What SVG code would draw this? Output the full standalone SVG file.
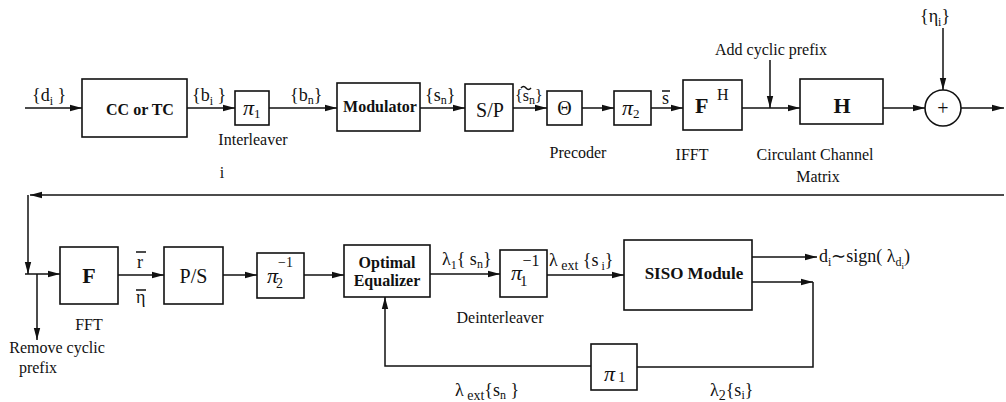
<svg xmlns="http://www.w3.org/2000/svg" width="1006" height="402" viewBox="0 0 1006 402">
<style>
.box{fill:#fff;stroke:#111;stroke-width:1.6}
.ln{fill:none;stroke:#111;stroke-width:1.5}
.t{font-family:"Liberation Serif","Times New Roman",serif;fill:#111}
.lb{font-size:16px;text-anchor:middle}
.bb{font-size:16px;font-weight:bold;text-anchor:middle}
.m{font-size:18px}
.s{font-size:12px}
.pi{font-size:22px;font-style:italic}
</style>
<defs>
<marker id="ar" viewBox="0 0 12 8" refX="12" refY="4" markerWidth="12" markerHeight="8" markerUnits="userSpaceOnUse" orient="auto">
<path d="M0,0.8 L12,4 L0,7.2 Z" fill="#111"/>
</marker>
</defs>
<rect width="1006" height="402" fill="#fff"/>

<g id="connectors">
<path class="ln" d="M25,108 H82" marker-end="url(#ar)"/>
<path class="ln" d="M187,108 H235" marker-end="url(#ar)"/>
<path class="ln" d="M269,108 H337" marker-end="url(#ar)"/>
<path class="ln" d="M420,108 H465" marker-end="url(#ar)"/>
<path class="ln" d="M513,108 H547" marker-end="url(#ar)"/>
<path class="ln" d="M582,108 H614" marker-end="url(#ar)"/>
<path class="ln" d="M651,108 H683" marker-end="url(#ar)"/>
<path class="ln" d="M742,108 H800" marker-end="url(#ar)"/>
<path class="ln" d="M770,60 V108" marker-end="url(#ar)"/>
<path class="ln" d="M883,108 H925" marker-end="url(#ar)"/>
<path class="ln" d="M943,28 V90" marker-end="url(#ar)"/>
<path class="ln" d="M961,108 H1004" marker-end="url(#ar)"/>
<path class="ln" d="M1004,195 H30" marker-end="url(#ar)"/>
<path class="ln" d="M28,195 V274" marker-end="url(#ar)"/>
<path class="ln" d="M25,274 H60" marker-end="url(#ar)"/>
<path class="ln" d="M37,274 V340" marker-end="url(#ar)"/>
<path class="ln" d="M118,275 H164" marker-end="url(#ar)"/>
<path class="ln" d="M223,275 H257" marker-end="url(#ar)"/>
<path class="ln" d="M304,275 H344" marker-end="url(#ar)"/>
<path class="ln" d="M430,274 H500" marker-end="url(#ar)"/>
<path class="ln" d="M547,275 H624" marker-end="url(#ar)"/>
<path class="ln" d="M752,257 H817" marker-end="url(#ar)"/>
<path class="ln" d="M752,282 H813" marker-end="url(#ar)"/>
<path class="ln" d="M813,282 V367 H637"/>
<path class="ln" d="M591,366 H385 V297" marker-end="url(#ar)"/>
</g>

<g id="cc"><rect class="box" x="82" y="79" width="105" height="58"/><text class="t bb" x="140" y="115">CC or TC</text></g>
<g id="pi1"><rect class="box" x="235" y="91" width="34" height="34"/><text class="t" x="243" y="115"><tspan class="pi">π</tspan><tspan font-size="13" dy="3">1</tspan></text></g>
<g id="modulator"><rect class="box" x="337" y="83" width="83" height="48"/><text class="t bb" x="380" y="112">Modulator</text></g>
<g id="sp"><rect class="box" x="465" y="84" width="48" height="47"/><text class="t" x="490" y="117" font-size="20" text-anchor="middle">S/P</text></g>
<g id="theta"><rect class="box" x="547" y="91" width="35" height="34"/><text class="t" x="564.5" y="115" font-size="20" text-anchor="middle">Θ</text></g>
<g id="pi2"><rect class="box" x="614" y="91" width="37" height="34"/><text class="t" x="622" y="115"><tspan class="pi">π</tspan><tspan font-size="13" dy="3">2</tspan></text></g>
<g id="ifft"><rect class="box" x="683" y="80" width="59" height="50"/><text class="t" x="695" y="113" font-size="22" font-weight="bold">F</text><text class="t" x="717" y="100" font-size="16">H</text></g>
<g id="channel"><rect class="box" x="800" y="79" width="83" height="45"/><text class="t" x="842" y="113" font-size="22" font-weight="bold" text-anchor="middle">H</text></g>
<g id="adder"><circle class="box" cx="943" cy="108" r="18"/><text class="t" x="943" y="115" font-size="20" text-anchor="middle">+</text></g>

<g id="fft"><rect class="box" x="60" y="247" width="58" height="57"/><text class="t" x="89" y="283" font-size="22" font-weight="bold" text-anchor="middle">F</text></g>
<g id="ps"><rect class="box" x="164" y="247" width="59" height="57"/><text class="t" x="193.5" y="283" font-size="20" text-anchor="middle">P/S</text></g>
<g id="pi2inv"><rect class="box" x="257" y="253" width="47" height="45"/><text class="t" x="267" y="283"><tspan class="pi">π</tspan><tspan font-size="14" dx="-2" dy="5">2</tspan><tspan font-size="14" dx="-5" dy="-21">−1</tspan></text></g>
<g id="equalizer"><rect class="box" x="344" y="245" width="86" height="52"/><text class="t bb" x="387" y="268">Optimal</text><text class="t bb" x="387" y="286">Equalizer</text></g>
<g id="pi1inv"><rect class="box" x="500" y="250" width="47" height="47"/><text class="t" x="511" y="280"><tspan class="pi">π</tspan><tspan font-size="15" dx="-2" dy="6">1</tspan><tspan font-size="16" dx="-5" dy="-20">−1</tspan></text></g>
<g id="siso"><rect class="box" x="624" y="240" width="128" height="70"/><text class="t" x="694" y="279" font-size="17" font-weight="bold" text-anchor="middle">SISO Module</text></g>
<g id="pi1fb"><rect class="box" x="591" y="344" width="46" height="46"/><text class="t" x="604" y="381"><tspan class="pi">π</tspan><tspan font-size="15" dx="3" dy="1">1</tspan></text></g>

<g id="labels">
<text class="t lb" x="253" y="145">Interleaver</text>
<text class="t lb" x="222" y="178">i</text>
<text class="t lb" x="578" y="158">Precoder</text>
<text class="t lb" x="692" y="160" font-size="15">IFFT</text>
<text class="t lb" x="815" y="160">Circulant Channel</text>
<text class="t lb" x="818" y="182">Matrix</text>
<text class="t lb" x="771" y="55">Add cyclic prefix</text>
<text class="t lb" x="89" y="330" font-size="15">FFT</text>
<text class="t lb" x="57" y="353">Remove cyclic</text>
<text class="t lb" x="38" y="373">prefix</text>
<text class="t lb" x="500" y="323">Deinterleaver</text>

<text class="t m" x="32" y="101">{d<tspan class="s" dy="4">i</tspan><tspan dy="-4"> }</tspan></text>
<text class="t m" x="192" y="101">{b<tspan class="s" dy="4">i</tspan><tspan dy="-4"> }</tspan></text>
<text class="t m" x="290" y="101">{b<tspan class="s" dy="3">n</tspan><tspan dy="-3">}</tspan></text>
<text class="t m" x="425" y="101">{s<tspan class="s" dy="3">n</tspan><tspan dy="-3">}</tspan></text>
<text class="t" x="515" y="101" font-size="16">{s<tspan class="s" dy="3">n</tspan><tspan dy="-3">}</tspan></text>
<path class="ln" d="M521,88 q2.5,-3 5,0 t5,0" stroke-width="1"/>
<text class="t m" x="662" y="104">s</text>
<path class="ln" d="M662,91 H670" stroke-width="1.2"/>
<text class="t m" x="920" y="22">{η<tspan class="s" dy="4">i</tspan><tspan dy="-4">}</tspan></text>

<text class="t m" x="137" y="268">r</text>
<path class="ln" d="M136,252 H146" stroke-width="1.3"/>
<text class="t m" x="136" y="303">η</text>
<path class="ln" d="M136,290 H146" stroke-width="1.3"/>

<text class="t m" x="442" y="265">λ<tspan class="s" dy="4">1</tspan><tspan dy="-4">{ s</tspan><tspan class="s" dy="3">n</tspan><tspan dy="-3">}</tspan></text>
<text class="t m" x="549" y="266">λ<tspan font-size="14" dy="4"> ext</tspan><tspan dy="-4"> {s</tspan><tspan class="s" dy="4"> i</tspan><tspan dy="-4">}</tspan></text>
<text class="t m" x="455" y="396">λ<tspan font-size="14" dy="4"> ext</tspan><tspan dy="-4">{s</tspan><tspan class="s" dy="3">n</tspan><tspan dy="-3"> }</tspan></text>
<text class="t m" x="710" y="396">λ<tspan font-size="14" dy="4">2</tspan><tspan dy="-4">{s</tspan><tspan class="s" dy="3">i</tspan><tspan dy="-3">}</tspan></text>
<text class="t m" x="819" y="262">d<tspan class="s" dy="4">i</tspan><tspan dy="-4">∼sign( λ</tspan><tspan class="s" dy="4">d</tspan><tspan font-size="9" dy="3">i</tspan><tspan dy="-7">)</tspan></text>
</g>
</svg>
